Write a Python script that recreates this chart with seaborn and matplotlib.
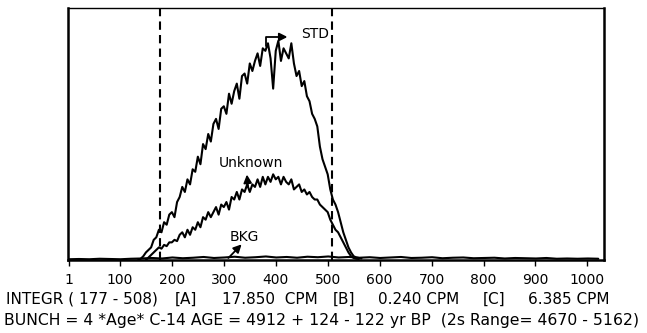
import numpy as np
import pandas as pd
import seaborn as sns
import matplotlib.pyplot as plt

# spectrum counts (arbitrary units, 0 = baseline, 100 = top of frame)
std_start, std_step = 135, 5
std_counts = [0, 0.5, 1.5, 3, 4, 5, 8, 9, 12, 11, 15, 14, 18, 19, 17, 23, 25, 29, 27, 32,
              30, 36, 35, 41, 38, 46, 44, 50, 47, 54, 56, 52, 60, 61, 58, 66, 62, 67, 70, 64,
              73, 74, 70, 78, 75, 79, 82, 77, 84, 83, 86, 80, 68, 83, 87, 79, 84, 82, 80, 86,
              78, 73, 75, 69, 71, 65, 63, 58, 56, 53, 45, 40, 37, 34, 28, 24, 22, 19, 15, 11,
              8, 5, 3, 1.5, 1, 0.8, 0.6]

unk_start, unk_step = 150, 5
unk_counts = [0, 1, 2, 3, 4, 5, 4.5, 6, 5.5, 7, 7, 8, 7.5, 10, 11, 9, 12, 10, 13, 12,
              15, 13, 17, 16, 19, 17, 19, 21, 18, 22, 21, 23, 20, 25, 24, 27, 24, 28, 27, 30,
              27, 30, 29, 32, 29, 33, 30, 33, 31, 34, 32, 33, 30, 33, 31, 30, 32, 28, 29, 30,
              27, 28, 26, 27, 25, 24, 24, 22, 21, 20, 19, 16, 14, 12, 11, 9, 7, 5, 3, 1.5,
              0.8, 0.5, 0.4]

bkg_start, bkg_step = 1, 20
bkg_counts = [0.3, 0.4, 0.3, 0.5, 0.4, 0.3, 0.5, 0.6, 0.8, 0.6, 1.0, 0.7, 0.9, 1.2, 0.8, 1.0,
              1.3, 0.9, 1.1, 1.4, 1.0, 1.2, 0.9, 1.3, 1.1, 1.4, 1.0, 1.2, 0.9, 1.1, 0.8, 1.0,
              1.2, 0.8, 0.9, 1.1, 0.7, 0.9, 1.0, 0.7, 0.8, 0.9, 0.6, 0.8, 0.7, 0.6, 0.8, 0.5,
              0.6, 0.5, 0.6, 0.5]

window = [177, 508]
tick_pos = [1, 100, 200, 300, 400, 500, 600, 700, 800, 900, 1000]

frames = []
for name, start, step, vals in [('STD', std_start, std_step, std_counts),
                                ('Unknown', unk_start, unk_step, unk_counts),
                                ('BKG', bkg_start, bkg_step, bkg_counts)]:
    frames.append(pd.DataFrame({'channel': start + step * np.arange(len(vals)),
                                'counts': vals, 'sample': name}))
df = pd.concat(frames, ignore_index=True)

sns.set_style('white')
plt.rcParams['font.family'] = ['DejaVu Sans']
plt.rcParams['text.color'] = 'black'
plt.rcParams['xtick.color'] = 'black'

fig = plt.figure(figsize=(6.47, 3.33), dpi=100)
ax = fig.add_axes([68 / 647, 73 / 333, 536 / 647, 252 / 333])

sns.lineplot(data=df, x='channel', y='counts', units='sample', estimator=None,
             color='black', linewidth=1.5, ax=ax, legend=False)

for w in window:
    ax.axvline(w, color='black', linestyle=(0, (4, 2.5)), linewidth=1.5)

ax.set_xlim(0, 1032)
ax.set_ylim(0, 100)
ax.set_yticks([])
ax.set_xticks(tick_pos)
ax.set_xticklabels([str(t) for t in tick_pos], fontsize=10)
ax.tick_params(axis='x', direction='out', length=4, width=1, pad=5, bottom=True,
               colors='black')
ax.set_xlabel('')
ax.set_ylabel('')
for s in ax.spines.values():
    s.set_color('black')
    s.set_linewidth(1.8)
ax.spines['top'].set_linewidth(1.0)

arrow = dict(arrowstyle='-|>', color='black', linewidth=1.3, mutation_scale=12)
ax.annotate('', xy=(428, 88.5), xytext=(382, 84),
            arrowprops=dict(arrow, connectionstyle='angle,angleA=90,angleB=0,rad=0'))
ax.text(448, 89.5, 'STD', fontsize=10, va='center', ha='left')
ax.annotate('', xy=(344, 35), xytext=(347, 28), arrowprops=arrow)
ax.text(352, 38.5, 'Unknown', fontsize=10, va='center', ha='center')
ax.annotate('', xy=(338, 7), xytext=(305, 0), arrowprops=arrow)
ax.text(340, 9, 'BKG', fontsize=10, va='center', ha='center')

line1 = [(6, 'INTEGR ( 177 - 508)'), (175, '[A]'), (222, '17.850  CPM'),
         (333, '[B]'), (378, '0.240 CPM'), (483, '[C]'), (528, '6.385 CPM')]
for x, t in line1:
    fig.text(x / 647, 1 - 299 / 333, t, fontsize=11, va='center', ha='left')
fig.text(4 / 647, 1 - 321 / 333,
         'BUNCH = 4 *Age* C-14 AGE = 4912 + 124 - 122 yr BP  (2s Range= 4670 - 5162)',
         fontsize=11.25, va='center', ha='left')

fig.savefig('out.png', dpi=100)
